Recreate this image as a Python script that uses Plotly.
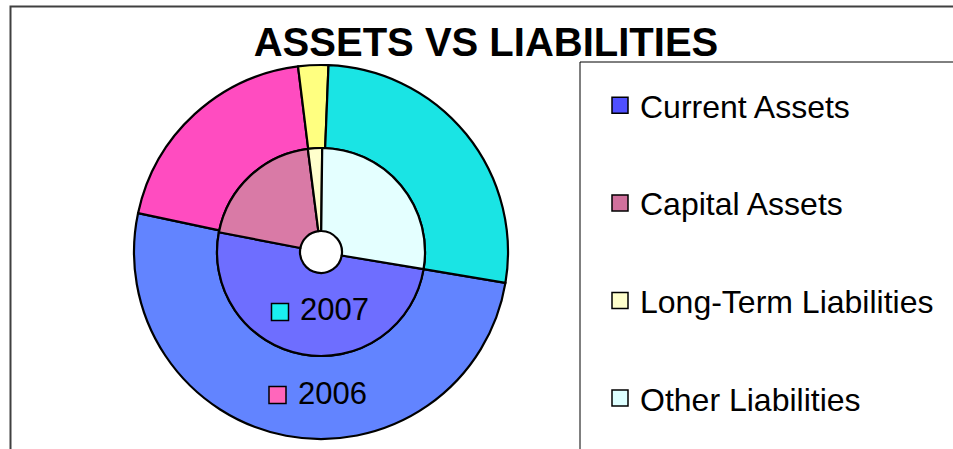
import plotly.graph_objects as go

# ---- data ----
categories = ["Current Assets", "Capital Assets", "Long-Term Liabilities", "Other Liabilities"]
values_2006 = [50.7, 19.7, 2.6, 27.0]
values_2007 = [50.3, 19.9, 2.2, 27.4]
series_names = ["2006", "2007"]

# ---- styles ----
W, H = 953, 449
colors_2006 = ["#6284ff", "#ff4cc0", "#ffff80", "#1ae4e4"]
colors_2007 = ["#6e6eff", "#d97aa6", "#ffffcc", "#e4ffff"]
legend_colors = ["#5050ff", "#d0709c", "#ffffcc", "#ddffff"]
FONT = "Liberation Sans, Arial, sans-serif"

cx, cy = 321, 252          # pie centre (px)
r_out, r_mid, r_in = 187, 104, 21


def px_x(x):
    return x / W


def px_y(y):
    return 1 - y / H


def domain(r):
    return dict(x=[px_x(cx - r), px_x(cx + r)], y=[px_y(cy + r), px_y(cy - r)])


fig = go.Figure()

fig.add_trace(go.Pie(
    labels=categories, values=values_2006, name=series_names[0],
    sort=False, direction="clockwise", rotation=99.5,
    hole=r_mid / r_out, domain=domain(r_out),
    marker=dict(colors=colors_2006, line=dict(color="black", width=2.2)),
    textinfo="none", showlegend=False,
    hovertemplate="%{label}<br>2006: %{value}<extra></extra>",
))
fig.add_trace(go.Pie(
    labels=categories, values=values_2007, name=series_names[1],
    sort=False, direction="clockwise", rotation=99.5,
    hole=r_in / r_mid, domain=domain(r_mid),
    marker=dict(colors=colors_2007, line=dict(color="black", width=2.2)),
    textinfo="none", showlegend=False,
    hovertemplate="%{label}<br>2007: %{value}<extra></extra>",
))

# legend entries (one group each so the spacing can be set)
for i, (cat, col) in enumerate(zip(categories, legend_colors)):
    fig.add_trace(go.Scatter(
        x=[None], y=[None], mode="markers", name=cat, legendgroup=f"g{i}",
        marker=dict(symbol="square", size=17, color=col, line=dict(color="black", width=1.5)),
        hoverinfo="skip",
    ))

shapes = [
    # chart border (left + top)
    dict(type="rect", xref="paper", yref="paper",
         x0=px_x(10.5), x1=px_x(980), y0=px_y(480), y1=px_y(6.5),
         line=dict(color="#404040", width=2), fillcolor="rgba(0,0,0,0)", layer="below"),
    # legend box
    dict(type="rect", xref="paper", yref="paper",
         x0=px_x(580), x1=px_x(990), y0=px_y(480), y1=px_y(62),
         line=dict(color="black", width=1), fillcolor="rgba(0,0,0,0)", layer="below"),
]

annotations = []
series_labels = [("2007", "#1af0f0", 280, 312, 334, 309),
                 ("2006", "#ff66bb", 277.5, 395, 332, 393)]
for txt, col, sx, sy, tx, ty in series_labels:
    shapes.append(dict(type="rect", xref="paper", yref="paper",
                       x0=px_x(sx - 8.5), x1=px_x(sx + 8.5), y0=px_y(sy + 8.5), y1=px_y(sy - 8.5),
                       line=dict(color="black", width=1.5), fillcolor=col))
    annotations.append(dict(text=txt, xref="paper", yref="paper", x=px_x(tx), y=px_y(ty),
                            xanchor="center", yanchor="middle", showarrow=False,
                            font=dict(family=FONT, size=31, color="black")))

fig.update_layout(
    width=W, height=H, autosize=False,
    margin=dict(l=0, r=0, t=0, b=0),
    paper_bgcolor="white", plot_bgcolor="white",
    title=dict(text="ASSETS VS LIABILITIES", x=px_x(486), xanchor="center",
               y=px_y(42), yanchor="middle",
               font=dict(family=FONT, size=40, color="black", weight="bold")),
    xaxis=dict(visible=False), yaxis=dict(visible=False),
    legend=dict(x=px_x(600), y=px_y(78), xanchor="left", yanchor="top",
                traceorder="grouped", tracegroupgap=53,
                font=dict(family=FONT, size=32, color="black"),
                bgcolor="rgba(0,0,0,0)", borderwidth=0),
    shapes=shapes, annotations=annotations,
)

fig.write_html(
    "out.html",
    config={"displayModeBar": False},
    post_script="document.body.style.margin='0';document.body.style.overflow='hidden';",
)
